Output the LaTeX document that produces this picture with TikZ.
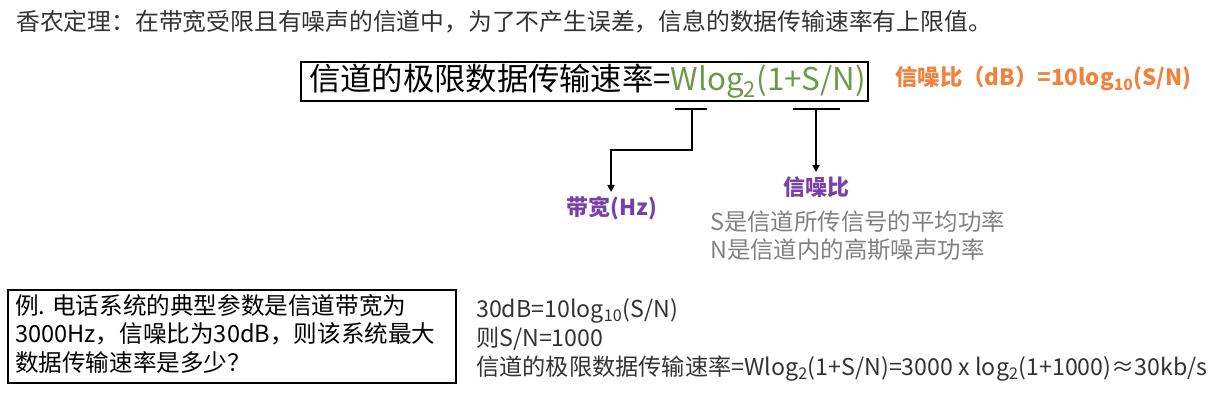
\documentclass[tikz,border=0pt]{standalone}
\usepackage{fontspec}
\setmainfont{Noto Sans CJK SC}
\usetikzlibrary{arrows.meta}
\definecolor{grn}{HTML}{6A9A45}
\definecolor{org}{HTML}{F0823C}
\definecolor{pur}{HTML}{7B3FA8}
\definecolor{gry}{HTML}{808080}
\tikzset{x=1pt,y=-1pt,
 lbl/.style={inner sep=0pt,anchor=west},
 arr/.style={line width=1.8pt,-{Triangle[length=7pt,width=7pt]}},
 bar/.style={line width=1.5pt}}
\begin{document}
\begin{tikzpicture}
\useasboundingbox (0,0) rectangle (1224,403);
\node[lbl,text=black!80] (title) at (16,22) {\fontsize{23.8}{26}\selectfont 香农定理：在带宽受限且有噪声的信道中，为了不产生误差，信息的数据传输速率有上限值。};
\draw[line width=1.2pt] (301,62) rectangle (868,101);
\node[lbl] (formula) at (309,81) {\fontsize{31.3}{34}\selectfont 信道的极限数据传输速率=\textcolor{grn}{Wlog\textsubscript{2}(1+S/N)}};
\node[lbl,text=org] (snrdb) at (895,79) {\fontsize{22.4}{24}\selectfont\bfseries 信噪比（dB）=10log\textsubscript{10}(S/N)};
\draw[bar] (675,109) -- (707,109);
\draw[bar] (793,109) -- (840,109);
\coordinate (b1) at (692,109);
\coordinate (b2) at (816,109);
\node[text=pur,inner sep=0pt] (bw) at (612,208) {\fontsize{22}{24}\selectfont\bfseries 带宽(Hz)};
\node[text=pur,inner sep=0pt] (snr) at (816,187) {\fontsize{22}{24}\selectfont\bfseries 信噪比};
\draw[arr] (b1) -- (692,150) -- (611,150) -- (611,192);
\draw[arr] (b2) -- (816,172);
\node[lbl,text=gry] (s) at (710,222) {\fontsize{23.4}{26}\selectfont S是信道所传信号的平均功率};
\node[lbl,text=gry] (n) at (710,250) {\fontsize{23.4}{26}\selectfont N是信道内的高斯噪声功率};
\draw[line width=1.2pt] (8,290) rectangle (456,383);
\node[lbl,align=left,anchor=north west,font=\fontsize{23.6}{28.5}\selectfont] (q) at (15,294) {例. 电话系统的典型参数是信道带宽为\\3000Hz，信噪比为30dB，则该系统最大\\数据传输速率是多少？};
\node[lbl,text=black!80] (a1) at (476,311) {\fontsize{23.2}{26}\selectfont 30dB=10log\textsubscript{10}(S/N)};
\node[lbl,text=black!80] (a2) at (476,339) {\fontsize{23.2}{26}\selectfont 则S/N=1000};
\node[lbl,text=black!80] (a3) at (476,369) {\fontsize{23.2}{26}\selectfont 信道的极限数据传输速率=Wlog\textsubscript{2}(1+S/N)=3000 x log\textsubscript{2}(1+1000)≈30kb/s};
\end{tikzpicture}
\end{document}
